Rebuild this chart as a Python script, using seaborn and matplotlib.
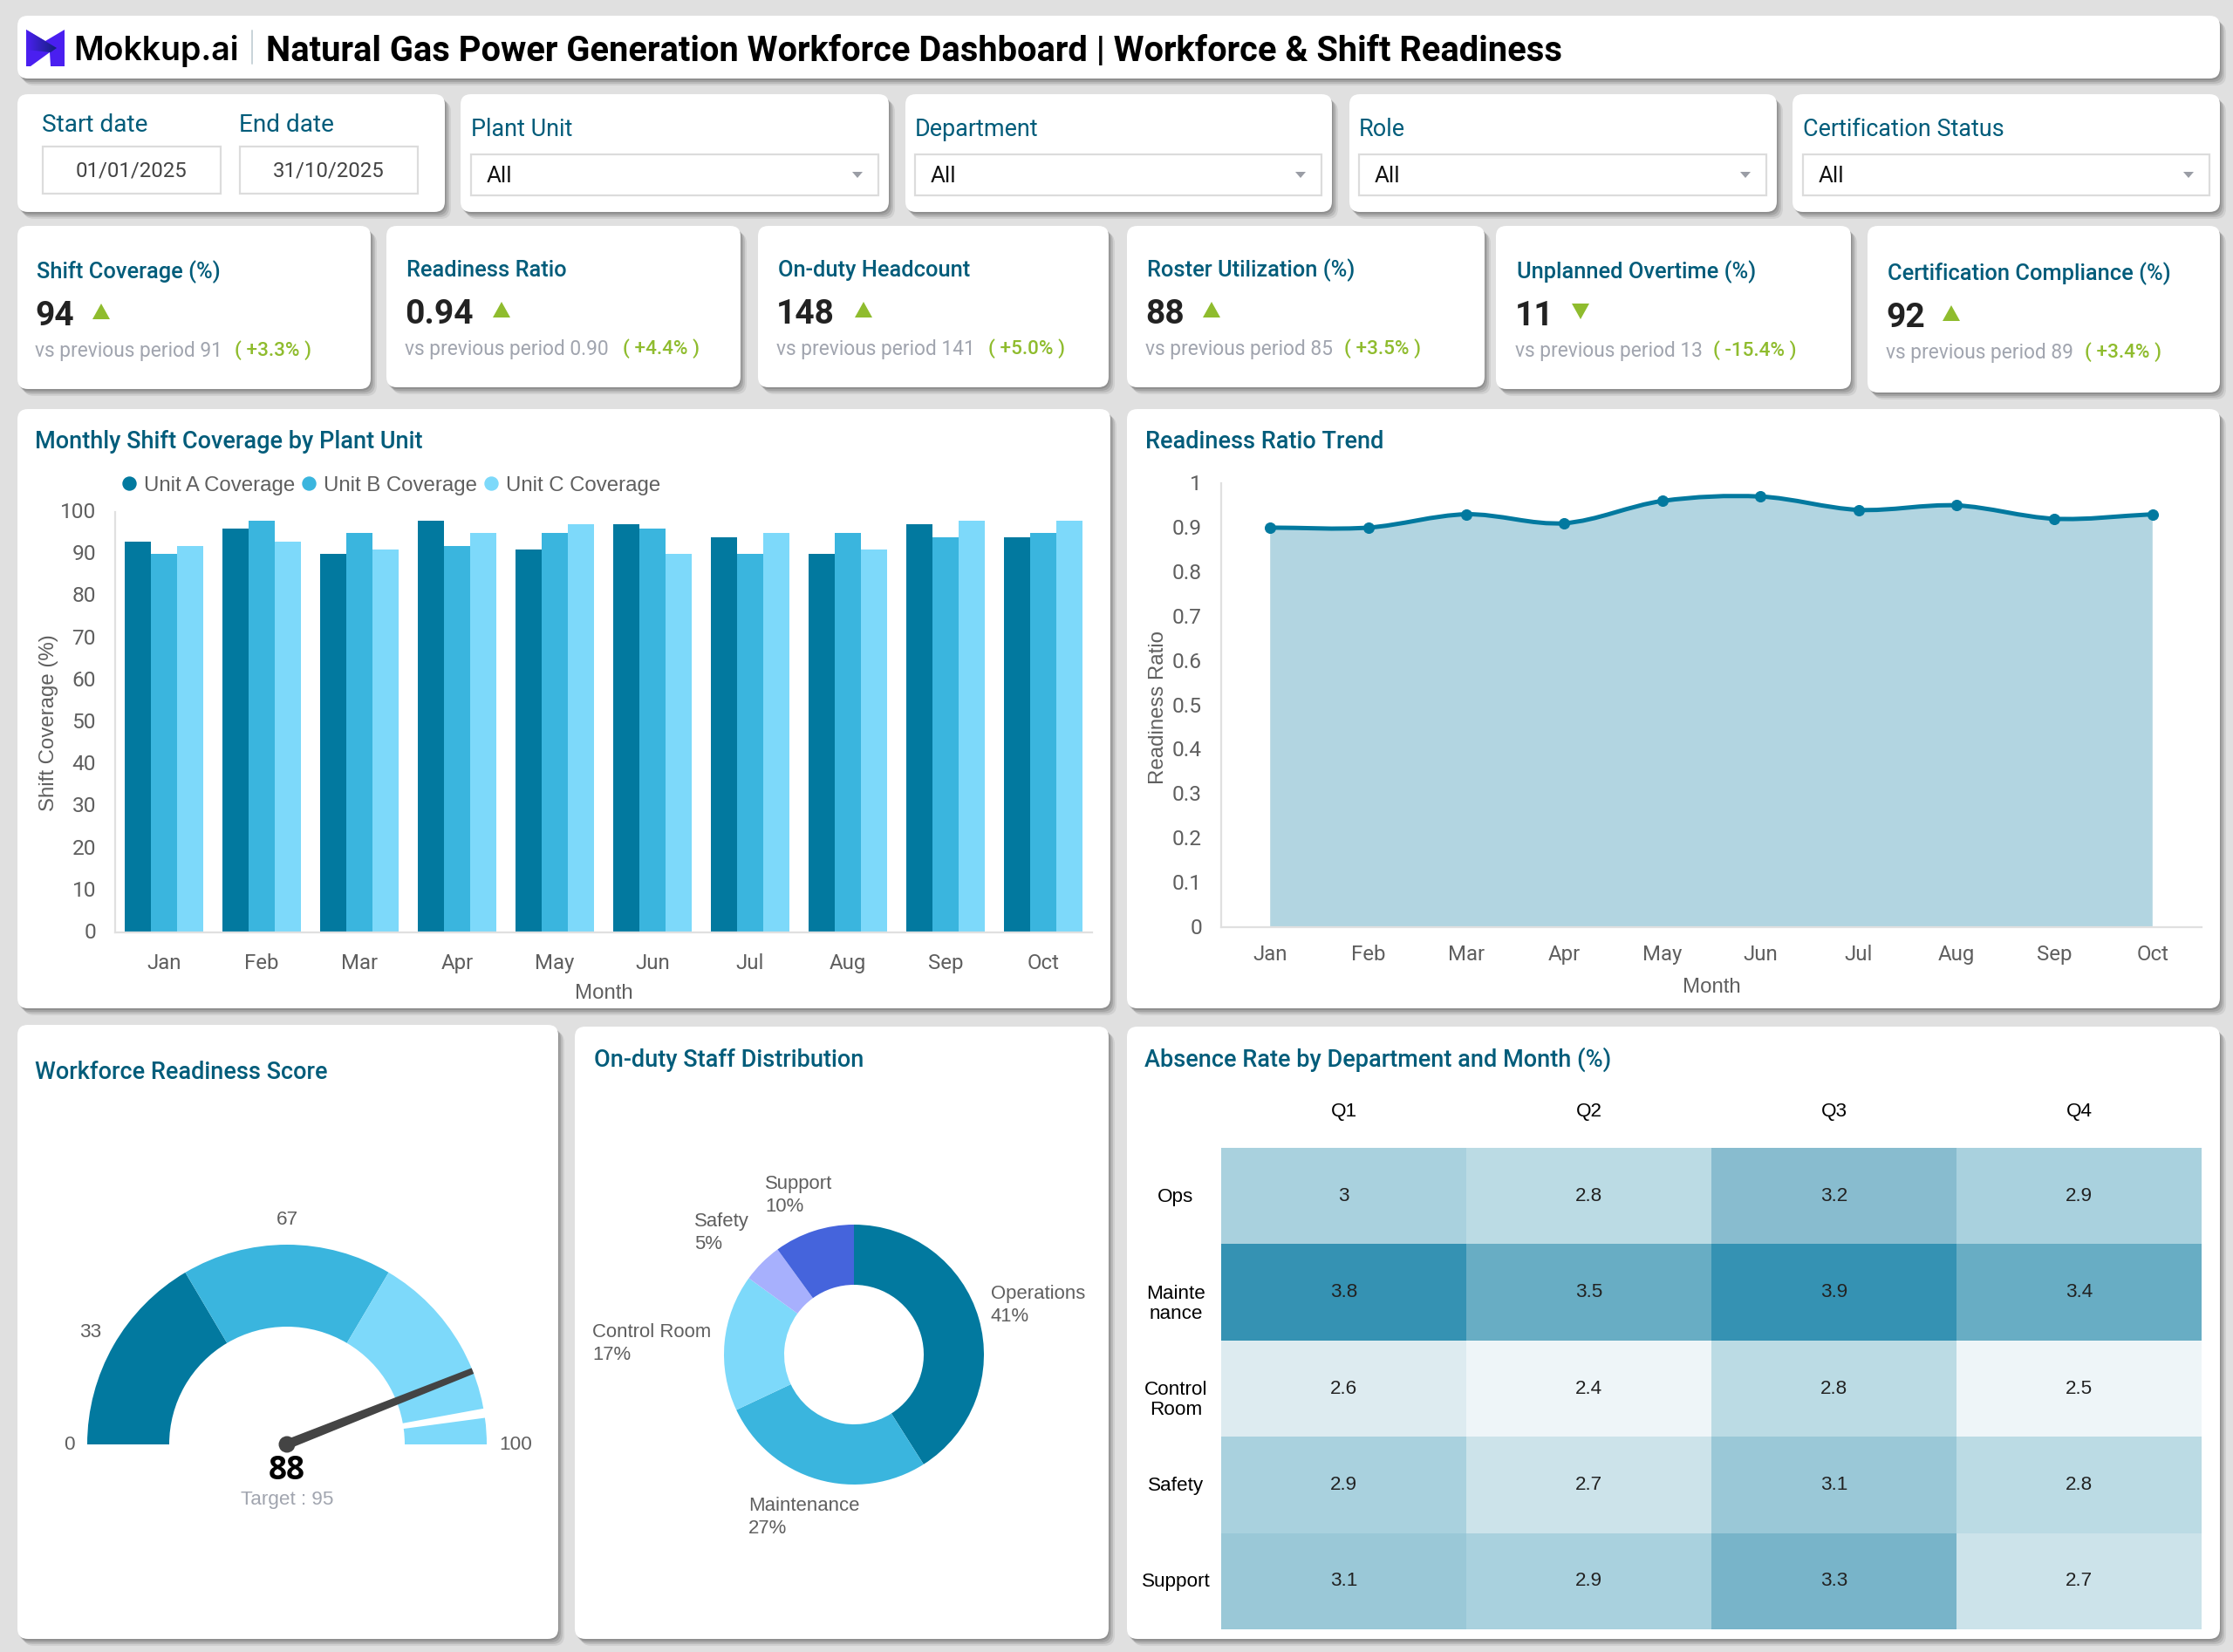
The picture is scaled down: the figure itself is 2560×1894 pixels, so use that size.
import numpy as np
import pandas as pd
import matplotlib
matplotlib.use("Agg")
import matplotlib.pyplot as plt
import seaborn as sns
from matplotlib.colors import LinearSegmentedColormap
from matplotlib.lines import Line2D
from matplotlib.patches import Circle, FancyBboxPatch, PathPatch, Polygon, Rectangle, Wedge
from matplotlib.path import Path
from matplotlib.transforms import ScaledTranslation

# --- data ---
months = ["Jan", "Feb", "Mar", "Apr", "May", "Jun", "Jul", "Aug", "Sep", "Oct"]
unit_a = [93, 96, 90, 98, 91, 97, 94, 90, 97, 94]
unit_b = [90, 98, 95, 92, 95, 96, 90, 95, 94, 95]
unit_c = [92, 93, 91, 95, 97, 90, 95, 91, 98, 98]
readiness = [0.90, 0.90, 0.93, 0.91, 0.96, 0.97, 0.94, 0.95, 0.92, 0.93]

kpi_titles = ["Shift Coverage (%)", "Readiness Ratio", "On-duty Headcount",
              "Roster Utilization (%)", "Unplanned Overtime (%)", "Certification Compliance (%)"]
kpi_values = ["94", "0.94", "148", "88", "11", "92"]
kpi_prev = ["91", "0.90", "141", "85", "13", "89"]
kpi_delta = ["+3.3%", "+4.4%", "+5.0%", "+3.5%", "-15.4%", "+3.4%"]
kpi_up = [True, True, True, True, False, True]

filter_names = ["Plant Unit", "Department", "Role", "Certification Status"]

gauge_stops = [0, 33, 67, 100]
gauge_value = 88
gauge_target = 95

staff_names = ["Operations", "Maintenance", "Control Room", "Safety", "Support"]
staff_share = [41, 27, 17, 5, 10]

quarters = ["Q1", "Q2", "Q3", "Q4"]
departments = ["Ops", "Mainte\nnance", "Control\nRoom", "Safety", "Support"]
absence = [[3.0, 2.8, 3.2, 2.9],
           [3.8, 3.5, 3.9, 3.4],
           [2.6, 2.4, 2.8, 2.5],
           [2.9, 2.7, 3.1, 2.8],
           [3.1, 2.9, 3.3, 2.7]]

# --- styles ---
W, H = 2560, 1894
DARK, MID, LIGHT = "#02799f", "#3ab5de", "#7dd9fa"
TEAL = "#015c7a"
GREY = "#5f5f5f"
MUTED = "#a1a5af"
GREEN = "#8fbc2e"
UI = "Roboto"
SANS = "Liberation Sans"

sns.set_theme(style="white")
plt.rcParams["font.family"] = [SANS, "DejaVu Sans"]

fig = plt.figure(figsize=(W / 100, H / 100), dpi=100, facecolor="#e0e0e0")
bg = fig.add_axes([0, 0, 1, 1], zorder=0)
bg.axis("off")


def px(size):
    return size * 0.72


def px_axes(x0, y0, x1, y1):
    ax = fig.add_axes([x0 / W, 1 - y1 / H, (x1 - x0) / W, (y1 - y0) / H], zorder=2)
    ax.patch.set_alpha(0)
    return ax


def card(x0, y0, x1, y1):
    for dx, dy, alpha in [(7, 8, 0.07), (5, 6, 0.10), (3, 4, 0.12), (1, 2, 0.12)]:
        bg.add_patch(FancyBboxPatch((x0 + 8 + dx, y0 + 8 + dy), x1 - x0 - 16, y1 - y0 - 16,
                                    boxstyle="round,pad=8,rounding_size=12", fc="black", ec="none", alpha=alpha))
    bg.add_patch(FancyBboxPatch((x0 + 8, y0 + 8), x1 - x0 - 16, y1 - y0 - 16,
                                boxstyle="round,pad=8,rounding_size=12", fc="white", ec="none"))


def label(x, y, s, size, color=TEAL, family=UI, weight="normal", ha="left", **kw):
    return bg.text(x, y + 2.5, s, fontsize=px(size), color=color, family=family, weight=weight,
                   ha=ha, va="center", **kw)


def input_box(x0, y0, x1, y1):
    bg.add_patch(Rectangle((x0, y0), x1 - x0, y1 - y0, fc="white", ec="#dcdcdc", lw=1.6))


def nudge(texts, dx_px=0, dy_px=0):
    # move tick labels by a few pixels, the ticks themselves stay put
    for t in texts:
        t.set_transform(t.get_transform() + ScaledTranslation(dx_px / 100, dy_px / 100, fig.dpi_scale_trans))


# --- header ---
card(20, 18, 2545, 90)
logo_back = Polygon([(30, 34), (30, 76), (35, 76), (57, 60), (58, 76), (74, 76), (74, 34), (52, 47)],
                    closed=True, fc="#4a1ff0", ec="none")
bg.add_patch(logo_back)
logo_front = Polygon([(30, 34), (65, 55), (58, 60), (30, 57)], closed=True, fc="none", ec="none")
bg.add_patch(logo_front)
shade = LinearSegmentedColormap.from_list("logo", ["#4a1ff0", "#14207c"])
im = bg.imshow(np.linspace(0, 1, 32).reshape(1, -1), cmap=shade, extent=(30, 65, 60, 34),
               aspect="auto", zorder=3)
im.set_clip_path(logo_front)
label(84, 56, "Mokkup.ai", 37.5, color="black", family="Inter", weight="semibold")
bg.plot([289, 289], [35, 73], color="#c8d3d8", lw=1.4)
label(305, 56, "Natural Gas Power Generation Workforce Dashboard | Workforce & Shift Readiness",
      39.85, color="black", weight="bold")

# --- filters ---
card(20, 108, 510, 243)
label(48, 141, "Start date", 28)
label(274, 141, "End date", 28)
input_box(49, 168, 253, 222)
input_box(275, 168, 479, 222)
label(151, 193, "01/01/2025", 24, color="#444444", ha="center")
label(377, 193, "31/10/2025", 24, color="#444444", ha="center")

filter_cards = [(528, 1019), (1038, 1527), (1547, 2037), (2055, 2545)]
filter_pad = [12, 11, 11, 12]
for name, (x0, x1), pad in zip(filter_names, filter_cards, filter_pad):
    card(x0, 108, x1, 243)
    label(x0 + pad, 145.5, name, 27)
    input_box(x0 + pad, 177, x1 - 12, 224)
    label(x0 + pad + 18, 199, "All", 26, color="#111111")
    ax_ = x1 - 36
    bg.add_patch(Polygon([(ax_ - 6, 197), (ax_ + 6, 197), (ax_, 204)], closed=True, fc="#9a9da5", ec="none"))

# --- KPI cards ---
kpi_cards = [(20, 425, 446), (443, 849, 444), (869, 1271, 444), (1292, 1702, 444), (1715, 2122, 446), (2141, 2545, 450)]
kpi_text_x = [40, 464, 890, 1313, 1737, 2162]
kpi_title_y = [310, 308, 308, 308, 310, 312]
kpi_tri_x = [116, 575, 990, 1389, 1812, 2237]
kpi_delta_x = [269, 714, 1133, 1541, 1964, 2390]
for i, (x0, x1, y1) in enumerate(kpi_cards):
    card(x0, 259, x1, y1)
    tx, ty = kpi_text_x[i], kpi_title_y[i]
    label(tx + 2, ty - 1, kpi_titles[i], 25.5, weight="medium")
    label(tx, ty + 49.5, kpi_values[i], 39, color="#222222", weight="bold")
    tri_y = ty + 47
    if kpi_up[i]:
        pts = [(kpi_tri_x[i] - 10, tri_y + 9), (kpi_tri_x[i] + 10, tri_y + 9), (kpi_tri_x[i], tri_y - 9)]
    else:
        pts = [(kpi_tri_x[i] - 10, tri_y - 9), (kpi_tri_x[i] + 10, tri_y - 9), (kpi_tri_x[i], tri_y + 9)]
    bg.add_patch(Polygon(pts, closed=True, fc=GREEN, ec="none"))
    label(tx, ty + 89.5, "vs previous period " + kpi_prev[i], 22.8, color=MUTED)
    label(kpi_delta_x[i], ty + 89.5, "( " + kpi_delta[i] + " )", 22.5, color=GREEN, weight="medium")

# --- chart cards ---
card(20, 469, 1273, 1156)
card(1292, 469, 2545, 1156)
card(20, 1175, 640, 1879)
card(659, 1177, 1271, 1879)
card(1292, 1177, 2545, 1879)
label(40, 503.5, "Monthly Shift Coverage by Plant Unit", 27.1, weight="medium")
label(1313, 503.5, "Readiness Ratio Trend", 27.1, weight="medium")
label(40, 1226.5, "Workforce Readiness Score", 27.1, weight="medium")
label(681, 1212.5, "On-duty Staff Distribution", 27.1, weight="medium")
label(1312, 1212.5, "Absence Rate by Department and Month (%)", 27.1, weight="medium")

# --- grouped bars ---
bars = pd.DataFrame({"Month": months * 3,
                     "Coverage": unit_a + unit_b + unit_c,
                     "Unit": ["Unit A Coverage"] * 10 + ["Unit B Coverage"] * 10 + ["Unit C Coverage"] * 10})
ax1 = px_axes(132, 587, 1252, 1069)
sns.barplot(data=bars, x="Month", y="Coverage", hue="Unit", palette=[DARK, MID, LIGHT], width=0.81,
            saturation=1, legend=False, linewidth=0, edgecolor="none", ax=ax1)
ax1.set_xlim(-0.5, 9.5)
ax1.set_ylim(0, 100)
ax1.set_yticks(range(0, 101, 10))
ax1.set_xlabel("")
ax1.set_ylabel("")
sns.despine(ax=ax1)
for side in ["left", "bottom"]:
    ax1.spines[side].set_color("#e0e0e0")
    ax1.spines[side].set_linewidth(1.6)
ax1.tick_params(axis="y", length=0, labelsize=px(24.5), labelcolor=GREY, pad=px(22))
ax1.tick_params(axis="x", length=0, labelsize=px(24), labelcolor=GREY, pad=px(24))
for t in ax1.get_xticklabels() + ax1.get_yticklabels():
    t.set_family(UI)
nudge(ax1.get_yticklabels(), dy_px=2)
label(56, 826, "Shift Coverage (%)", 24, color=GREY, family=SANS, rotation=90, ha="center")
label(692, 1136, "Month", 24, color=GREY, family=SANS, ha="center")
handles = [Line2D([], [], marker="o", ls="", color=c, markersize=px(15)) for c in [DARK, MID, LIGHT]]
ax1.legend(handles, ["Unit A Coverage", "Unit B Coverage", "Unit C Coverage"], ncol=3, frameon=False,
           loc="center left", bbox_to_anchor=(0.004, 1.0625), fontsize=px(24), labelcolor=GREY,
           handlelength=1, handletextpad=0.19, columnspacing=0.17, borderpad=0, borderaxespad=0)

# --- readiness area ---
ax2 = px_axes(1400, 554, 2524, 1063)
sns.lineplot(x=months, y=readiness, color=DARK, lw=0, marker="o", markersize=px(12),
             markeredgecolor=DARK, ax=ax2, zorder=4)
xs = np.arange(len(readiness))
ys = np.array(readiness)
slope = np.gradient(ys)
verts = [(xs[0], ys[0])]
codes = [Path.MOVETO]
for i in range(len(xs) - 1):
    verts += [(xs[i] + 1 / 3, ys[i] + slope[i] / 3), (xs[i + 1] - 1 / 3, ys[i + 1] - slope[i + 1] / 3), (xs[i + 1], ys[i + 1])]
    codes += [Path.CURVE4] * 3
ax2.add_patch(PathPatch(Path(verts + [(xs[-1], 0), (xs[0], 0), (xs[0], ys[0])], codes + [Path.LINETO] * 3),
                        fc="#b2d5e1", ec="none", zorder=1))
ax2.add_patch(PathPatch(Path(verts, codes), fc="none", ec=DARK, lw=px(5), capstyle="round", zorder=3))
ax2.set_xlim(-0.5, 9.5)
ax2.set_ylim(0, 1)
ax2.set_yticks(np.arange(0, 1.01, 0.1))
ax2.set_yticklabels(["0", "0.1", "0.2", "0.3", "0.4", "0.5", "0.6", "0.7", "0.8", "0.9", "1"])
sns.despine(ax=ax2)
for side in ["left", "bottom"]:
    ax2.spines[side].set_color("#e0e0e0")
    ax2.spines[side].set_linewidth(1.6)
ax2.tick_params(axis="y", length=0, labelsize=px(24.5), labelcolor=GREY, pad=px(22))
ax2.tick_params(axis="x", length=0, labelsize=px(24), labelcolor=GREY, pad=px(20))
for t in ax2.get_xticklabels() + ax2.get_yticklabels():
    t.set_family(UI)
nudge(ax2.get_yticklabels(), dy_px=1)
label(1328, 808, "Readiness Ratio", 24, color=GREY, family=SANS, rotation=90, ha="center")
label(1962, 1129, "Month", 24, color=GREY, family=SANS, ha="center")

# --- gauge ---
cx, cy = 329, 1656
ax3 = px_axes(60, 1400, 600, 1680)
ax3.set_xlim(60 - cx, 600 - cx)
ax3.set_ylim(cy - 1680, cy - 1400)
ax3.axis("off")


def gauge_angle(v):
    return 180 * (1 - v / 100)


for lo, hi, c in zip(gauge_stops[:-1], gauge_stops[1:], [DARK, MID, LIGHT]):
    ax3.add_patch(Wedge((0, 0), 229, gauge_angle(hi), gauge_angle(lo), width=94, fc=c, ec="none"))
ax3.add_patch(Wedge((0, 0), 240, gauge_angle(gauge_target + 0.75), gauge_angle(gauge_target - 0.75),
                    width=110, fc="white", ec="none"))
a = np.radians(gauge_angle(gauge_value))
ux, uy = np.cos(a), np.sin(a)
nx, ny = -uy, ux
ax3.add_patch(Polygon([(5.5 * nx, 5.5 * ny), (229 * ux + 3.5 * nx, 229 * uy + 3.5 * ny),
                       (229 * ux - 3.5 * nx, 229 * uy - 3.5 * ny), (-5.5 * nx, -5.5 * ny)],
                      closed=True, fc="#444444", ec="none"))
ax3.add_patch(Circle((0, 0), 9.5, fc="#444444", ec="none"))
label(79, 1654, str(gauge_stops[0]), 22.5, color=GREY, family=SANS, ha="center")
label(104, 1525, str(gauge_stops[1]), 22.5, color=GREY, family=SANS, ha="center")
label(329, 1396, str(gauge_stops[2]), 22.5, color=GREY, family=SANS, ha="center")
label(591, 1654, str(gauge_stops[3]), 22.5, color=GREY, family=SANS, ha="center")
label(329, 1683, str(gauge_value), 37, color="black", family="Open Sans", weight="bold", ha="center")
label(329, 1717, "Target : " + str(gauge_target), 22.5, color=MUTED, family=SANS, ha="center")

# --- donut ---
dx, dy = 979, 1553
ax4 = px_axes(dx - 160, dy - 160, dx + 160, dy + 160)
ax4.pie(staff_share, colors=[DARK, MID, LIGHT, "#a7b0fd", "#4564dc"], startangle=90, counterclock=False,
        radius=149, wedgeprops={"width": 69, "edgecolor": "none"})
ax4.set_xlim(-160, 160)
ax4.set_ylim(-160, 160)
donut_text = [(1136, 1481), (858, 1724), (679, 1525), (796, 1398), (877, 1355)]
for name, share, (tx, ty) in zip(staff_names, staff_share, donut_text):
    label(tx, ty, name, 22.2, color=GREY, family=SANS)
    label(tx, ty + 26, str(share) + "%", 22.2, color=GREY, family=SANS)

# --- heatmap ---
heat = pd.DataFrame(absence, index=departments, columns=quarters)
heat_cmap = LinearSegmentedColormap.from_list("absence", [
    (0.0, "#eef5f8"), (0.067, "#eef5f8"), (0.133, "#ddebf0"), (0.2, "#cce3ea"), (0.267, "#bbdbe4"), (0.333, "#a9d1de"),
    (0.4, "#a9d1de"), (0.467, "#9ac8d7"), (0.533, "#88bccf"), (0.6, "#78b4c9"), (0.667, "#68adc4"), (0.733, "#68adc4"),
    (0.933, "#3592b3"), (1.0, "#3592b3")])
ax5 = px_axes(1400, 1316, 2524, 1868)
sns.heatmap(heat, cmap=heat_cmap, vmin=2.4, vmax=3.9, cbar=False, annot=True, fmt="g",
            annot_kws={"fontsize": px(22.5), "color": "#222222", "family": SANS}, ax=ax5)
ax5.xaxis.tick_top()
ax5.tick_params(axis="x", length=0, labelsize=px(22.5), labelcolor="#000000", pad=px(31), rotation=0)
ax5.tick_params(axis="y", length=0, labelsize=px(22.5), labelcolor="#000000", pad=px(52), rotation=0)
for t in ax5.get_yticklabels():
    t.set_ha("center")
    t.set_va("center")
    t.set_multialignment("center")
    t.set_linespacing(1.12)
nudge([t for t in ax5.get_yticklabels() if "\n" in t.get_text()], dy_px=-13)
nudge([t for t in ax5.get_yticklabels() if "\n" not in t.get_text()], dy_px=-1)

bg.set_xlim(0, W)
bg.set_ylim(H, 0)
fig.savefig("out.png", dpi=100, facecolor=fig.get_facecolor())
